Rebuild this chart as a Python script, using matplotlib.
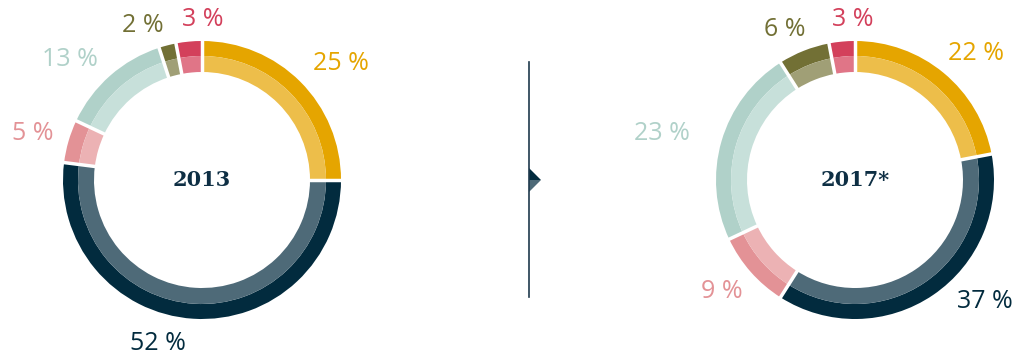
import numpy as np
import matplotlib
matplotlib.use("Agg")
import matplotlib.pyplot as plt
from matplotlib.patches import Polygon

# data, clockwise from the top
years = ["2013", "2017*"]
shares_2013 = [25, 52, 5, 13, 2, 3]
shares_2017 = [22, 37, 9, 23, 6, 3]
labels_2013 = ["25 %", "52 %", "5 %", "13 %", "2 %", "3 %"]
labels_2017 = ["22 %", "37 %", "9 %", "23 %", "6 %", "3 %"]

outer_cols = ["#E5A500", "#022B3E", "#E39296", "#B0D1C9", "#727035", "#D3405B"]
inner_cols = ["#EDBE4A", "#4E6A78", "#ECB2B4", "#C7E0DA", "#A09F76", "#E07587"]

W, H = 1015, 356
fig = plt.figure(figsize=(W / 100, H / 100), dpi=100)
ax = fig.add_axes([0, 0, 1, 1])

R = 139
ring1 = 15
ring2 = 16

def donut(cx, cy, vals, labs, lab_pos, title):
    c = (cx, H - cy)
    outer, _ = ax.pie(vals, colors=outer_cols, radius=R, center=c, startangle=90,
                      counterclock=False, frame=True,
                      wedgeprops=dict(width=ring1, edgecolor="none"))
    ax.pie(vals, colors=inner_cols, radius=R - ring1, center=c, startangle=90,
           counterclock=False, frame=True,
           wedgeprops=dict(width=ring2, edgecolor="none"))
    # white gaps between segments
    for w in outer:
        a = np.deg2rad(w.theta1)
        r = np.array([R - ring1 - ring2 - 3, R + 3])
        ax.plot(c[0] + r * np.cos(a), c[1] + r * np.sin(a), color="white", lw=2.5,
                solid_capstyle="butt")
    for lab, col, (x, y) in zip(labs, outer_cols, lab_pos):
        ax.text(x, H - y, lab, color=col, fontsize=18, family="Open Sans",
                ha="center", va="center")
    ax.text(cx, H - cy, title, color="#0E2F44", fontsize=15, family="DejaVu Serif",
            fontweight="bold", ha="center", va="center")

donut(202, 180, shares_2013, labels_2013,
      [(341, 63), (158, 343), (33, 133), (70, 60), (143, 25), (203, 20)], years[0])
donut(855, 180, shares_2017, labels_2017,
      [(976, 53), (985, 302), (722, 292), (662, 133), (785, 30), (853, 20)], years[1])

# separator with arrow
ax.plot([529, 529], [H - 62, H - 297], color="#1F3A4D", lw=1.2)
ax.add_patch(Polygon([(529, H - 168), (541, H - 180), (529, H - 180)], closed=True,
                     color="#022B3E", lw=0))
ax.add_patch(Polygon([(529, H - 180), (541, H - 180), (529, H - 192)], closed=True,
                     color="#4E6A78", lw=0))

ax.set_xlim(0, W)
ax.set_ylim(0, H)
ax.set_aspect("equal")
ax.axis("off")

fig.savefig("out.png", dpi=100)
